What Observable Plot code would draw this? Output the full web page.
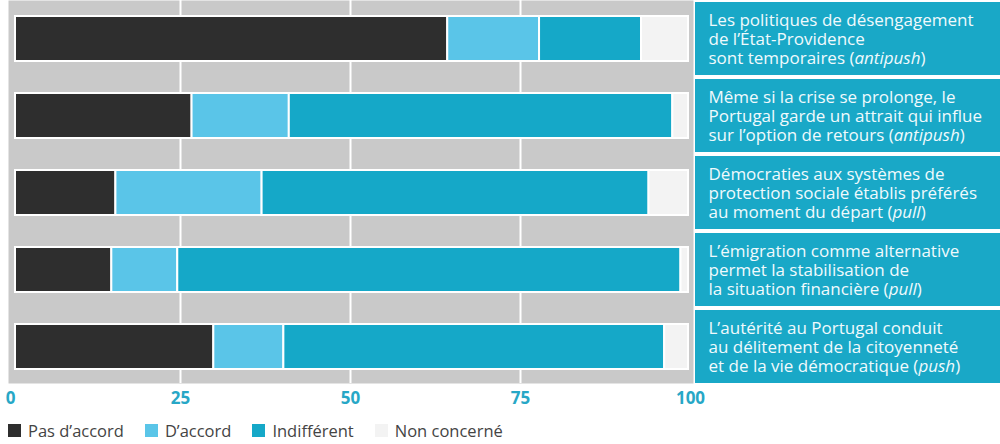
<!DOCTYPE html>
<html><head><meta charset="utf-8">
<script src="https://cdn.jsdelivr.net/npm/d3@7"></script>
<script src="https://cdn.jsdelivr.net/npm/@observablehq/plot@0.6"></script>
<style>
body{margin:0;background:#fff;}
#chart svg{display:block}
#chart g[aria-label="x-axis tick label"]{fill:#27a7c6}
.lg-swatches{font-family:"Open Sans",sans-serif;font-size:16.5px;color:#444;margin:4px 0 0 8px;}
.lg-swatches-wrap .lg-swatch{margin-right:21px;}
.lg-swatch > svg{margin-right:7px;}
</style></head><body><div id="chart"></div>
<script>
const questions = ["q1","q2","q3","q4","q5"];
const labels = [
  "Les politiques de désengagement\nde l’État-Providence\nsont temporaires (antipush)",
  "Même si la crise se prolonge, le\nPortugal garde un attrait qui influe\nsur l’option de retours (antipush)",
  "Démocraties aux systèmes de\nprotection sociale établis préférés\nau moment du départ (pull)",
  "L’émigration comme alternative\npermet la stabilisation de\nla situation financière (pull)",
  "L’autérité au Portugal conduit\nau délitement de la citoyenneté\net de la vie démocratique (push)"
];
const responses = ["Pas d’accord","D’accord","Indifférent","Non concerné"];
const colors = ["#2e2e2e","#5ac5e8","#15a8c8","#f3f3f3"];
const pasDaccord  = [64.3, 26.7, 15.5, 14.9, 29.9];
const dAccord     = [13.5, 14.3, 21.5,  9.7, 10.3];
const indifferent = [15.0, 56.4, 56.9, 74.0, 56.0];
const nonConcerne = [ 7.2,  2.6,  6.1,  1.4,  3.8];
const ticks = [0, 25, 50, 75, 100];
const gridlines = [25, 50, 75];

const series = [pasDaccord, dAccord, indifferent, nonConcerne];
const rows = [];
questions.forEach((q, i) => {
  let acc = 0;
  series.forEach((s, k) => {
    rows.push({q, r: responses[k], k, x1: acc, x2: acc + s[i]});
    acc += s[i];
  });
});

const barOpts = {x1: "x1", x2: "x2", y: "q", fill: "r", stroke: "#fff", strokeWidth: 2};

const plot = Plot.plot({
  width: 1000, height: 410,
  marginLeft: 10, marginRight: 310, marginTop: 0, marginBottom: 25,
  x: {domain: [0, 100]},
  y: {domain: questions, axis: null, paddingInner: 0.42, paddingOuter: 0.21},
  color: {domain: responses, range: colors},
  style: {fontFamily: "Open Sans, sans-serif", overflow: "visible", background: "#fff"},
  marks: [
    Plot.frame({fill: "#c9c9c9", stroke: "none", insetLeft: -2, insetRight: -3, insetBottom: 2}),
    Plot.ruleX(gridlines, {stroke: "#fff", strokeWidth: 2, insetBottom: 2}),
    Plot.barX(rows.filter(d => d.k === 0), {...barOpts, insetLeft: 5}),
    Plot.barX(rows.filter(d => d.k === 1 || d.k === 2), barOpts),
    Plot.barX(rows.filter(d => d.k === 3), {...barOpts, insetRight: 2}),
    Plot.cell(questions, {y: d => d, fill: "#19a8c7", insetLeft: 685, insetRight: -310, insetTop: -14, insetBottom: -14}),
    Plot.text(questions, {y: d => d, text: (d, i) => labels[i], frameAnchor: "right", dx: 18, textAnchor: "start",
      fill: "#f0fafd", fontSize: 17, lineHeight: 1.13, letterSpacing: -0.35}),
    Plot.axisX({ticks, tickSize: 0, tickPadding: 6, fontSize: 17, fontWeight: "bold", fill: "#27a7c6", tickFormat: d => d})
  ]
});

// italicise the trailing (push/pull/antipush) term, as sibling tspans on the same line
const SVGNS = "http://www.w3.org/2000/svg";
Array.from(plot.querySelectorAll("tspan")).forEach(t => {
  const m = t.textContent.match(/^(.*\()(antipush|pull|push)(\))$/);
  if (!m) return;
  t.textContent = m[1];
  const it = document.createElementNS(SVGNS, "tspan");
  it.setAttribute("font-style", "italic");
  it.textContent = m[2];
  const close = document.createElementNS(SVGNS, "tspan");
  close.textContent = m[3];
  t.after(it, close);
});

const legend = Plot.legend({
  color: {domain: responses, range: colors},
  legend: "swatches", swatchSize: 13, className: "lg"
});

const root = document.getElementById("chart");
root.appendChild(plot);
root.appendChild(legend);
</script></body></html>
